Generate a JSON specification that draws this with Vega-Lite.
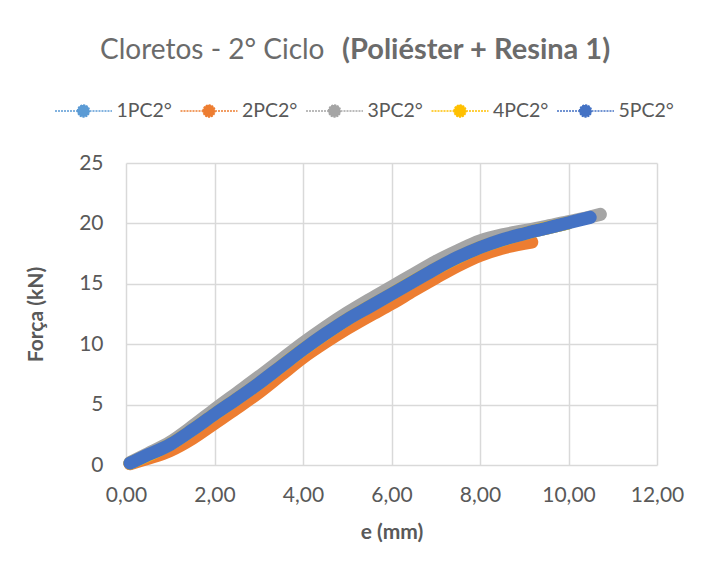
{
  "$schema": "https://vega.github.io/schema/vega-lite/v6.json",
  "width": 531,
  "height": 302,
  "autosize": {"type": "none"},
  "padding": {"left": 126, "top": 163, "right": 46, "bottom": 109},
  "background": "white",
  "config": {
    "view": {"stroke": null},
    "font": "Lato",
    "text": {"font": "Lato"}
  },
  "title": {
    "text": "Cloretos - 2° Ciclo",
    "subtitle": "(Poliéster + Resina 1)",
    "orient": "top",
    "frame": "group",
    "anchor": "start",
    "dx": -26,
    "offset": 35,
    "font": "Lato",
    "fontSize": 28,
    "fontWeight": "normal",
    "color": "#6b6b6b",
    "subtitleFont": "Lato",
    "subtitleFontSize": 29,
    "subtitleFontWeight": "bold",
    "subtitleColor": "#6b6b6b",
    "subtitlePadding": -29,
    "encode": {"subtitle": {"update": {"dx": {"value": 216}}}}
  },
  "data": {
    "values": [
      {"serie": "1PC2°", "e": 0.09, "forca": 0.15},
      {"serie": "1PC2°", "e": 1.0, "forca": 1.7},
      {"serie": "1PC2°", "e": 2.0, "forca": 4.2},
      {"serie": "1PC2°", "e": 3.0, "forca": 6.75},
      {"serie": "1PC2°", "e": 4.0, "forca": 9.55},
      {"serie": "1PC2°", "e": 5.0, "forca": 12.05},
      {"serie": "1PC2°", "e": 6.0, "forca": 14.15},
      {"serie": "1PC2°", "e": 7.0, "forca": 16.25},
      {"serie": "1PC2°", "e": 8.0, "forca": 18.0},
      {"serie": "1PC2°", "e": 9.0, "forca": 19.15},
      {"serie": "1PC2°", "e": 10.0, "forca": 20.05},

      {"serie": "2PC2°", "e": 0.09, "forca": 0.1},
      {"serie": "2PC2°", "e": 0.5, "forca": 0.55},
      {"serie": "2PC2°", "e": 1.0, "forca": 1.2},
      {"serie": "2PC2°", "e": 1.5, "forca": 2.2},
      {"serie": "2PC2°", "e": 2.0, "forca": 3.45},
      {"serie": "2PC2°", "e": 2.5, "forca": 4.7},
      {"serie": "2PC2°", "e": 3.0, "forca": 6.0},
      {"serie": "2PC2°", "e": 3.5, "forca": 7.45},
      {"serie": "2PC2°", "e": 4.0, "forca": 8.9},
      {"serie": "2PC2°", "e": 4.5, "forca": 10.15},
      {"serie": "2PC2°", "e": 5.0, "forca": 11.3},
      {"serie": "2PC2°", "e": 5.5, "forca": 12.35},
      {"serie": "2PC2°", "e": 6.0, "forca": 13.35},
      {"serie": "2PC2°", "e": 6.5, "forca": 14.45},
      {"serie": "2PC2°", "e": 7.0, "forca": 15.5},
      {"serie": "2PC2°", "e": 7.5, "forca": 16.5},
      {"serie": "2PC2°", "e": 8.0, "forca": 17.35},
      {"serie": "2PC2°", "e": 8.5, "forca": 17.95},
      {"serie": "2PC2°", "e": 9.17, "forca": 18.45},

      {"serie": "3PC2°", "e": 0.09, "forca": 0.2},
      {"serie": "3PC2°", "e": 0.5, "forca": 0.95},
      {"serie": "3PC2°", "e": 1.0, "forca": 1.9},
      {"serie": "3PC2°", "e": 1.5, "forca": 3.2},
      {"serie": "3PC2°", "e": 2.0, "forca": 4.6},
      {"serie": "3PC2°", "e": 2.5, "forca": 5.95},
      {"serie": "3PC2°", "e": 3.0, "forca": 7.3},
      {"serie": "3PC2°", "e": 3.5, "forca": 8.7},
      {"serie": "3PC2°", "e": 4.0, "forca": 10.1},
      {"serie": "3PC2°", "e": 4.5, "forca": 11.4},
      {"serie": "3PC2°", "e": 5.0, "forca": 12.6},
      {"serie": "3PC2°", "e": 5.5, "forca": 13.7},
      {"serie": "3PC2°", "e": 6.0, "forca": 14.75},
      {"serie": "3PC2°", "e": 6.5, "forca": 15.8},
      {"serie": "3PC2°", "e": 7.0, "forca": 16.85},
      {"serie": "3PC2°", "e": 7.5, "forca": 17.75},
      {"serie": "3PC2°", "e": 8.0, "forca": 18.55},
      {"serie": "3PC2°", "e": 8.5, "forca": 19.05},
      {"serie": "3PC2°", "e": 9.0, "forca": 19.4},
      {"serie": "3PC2°", "e": 9.5, "forca": 19.75},
      {"serie": "3PC2°", "e": 10.0, "forca": 20.15},
      {"serie": "3PC2°", "e": 10.5, "forca": 20.55},
      {"serie": "3PC2°", "e": 10.72, "forca": 20.75},

      {"serie": "4PC2°", "e": 0.09, "forca": 0.15},
      {"serie": "4PC2°", "e": 1.0, "forca": 1.7},
      {"serie": "4PC2°", "e": 2.0, "forca": 4.2},
      {"serie": "4PC2°", "e": 3.0, "forca": 6.75},
      {"serie": "4PC2°", "e": 4.0, "forca": 9.55},
      {"serie": "4PC2°", "e": 5.0, "forca": 12.05},
      {"serie": "4PC2°", "e": 6.0, "forca": 14.15},
      {"serie": "4PC2°", "e": 7.0, "forca": 16.25},
      {"serie": "4PC2°", "e": 8.0, "forca": 18.0},
      {"serie": "4PC2°", "e": 9.0, "forca": 19.15},
      {"serie": "4PC2°", "e": 10.0, "forca": 20.05},

      {"serie": "5PC2°", "e": 0.09, "forca": 0.15},
      {"serie": "5PC2°", "e": 0.5, "forca": 0.85},
      {"serie": "5PC2°", "e": 1.0, "forca": 1.7},
      {"serie": "5PC2°", "e": 1.5, "forca": 2.9},
      {"serie": "5PC2°", "e": 2.0, "forca": 4.2},
      {"serie": "5PC2°", "e": 2.5, "forca": 5.45},
      {"serie": "5PC2°", "e": 3.0, "forca": 6.75},
      {"serie": "5PC2°", "e": 3.5, "forca": 8.15},
      {"serie": "5PC2°", "e": 4.0, "forca": 9.55},
      {"serie": "5PC2°", "e": 4.5, "forca": 10.85},
      {"serie": "5PC2°", "e": 5.0, "forca": 12.05},
      {"serie": "5PC2°", "e": 5.5, "forca": 13.1},
      {"serie": "5PC2°", "e": 6.0, "forca": 14.15},
      {"serie": "5PC2°", "e": 6.5, "forca": 15.2},
      {"serie": "5PC2°", "e": 7.0, "forca": 16.25},
      {"serie": "5PC2°", "e": 7.5, "forca": 17.2},
      {"serie": "5PC2°", "e": 8.0, "forca": 18.0},
      {"serie": "5PC2°", "e": 8.5, "forca": 18.65},
      {"serie": "5PC2°", "e": 9.0, "forca": 19.15},
      {"serie": "5PC2°", "e": 9.5, "forca": 19.6},
      {"serie": "5PC2°", "e": 10.0, "forca": 20.05},
      {"serie": "5PC2°", "e": 10.49, "forca": 20.5}
    ]
  },
  "mark": {
    "type": "line",
    "strokeWidth": 13,
    "strokeCap": "round",
    "strokeJoin": "round",
    "interpolate": "monotone"
  },
  "encoding": {
    "x": {
      "field": "e",
      "type": "quantitative",
      "scale": {"domain": [0, 12], "nice": false, "zero": false},
      "axis": {
        "title": "e (mm)",
        "values": [0, 2, 4, 6, 8, 10, 12],
        "labelExpr": "replace(format(datum.value, '.2f'), '.', ',')",
        "grid": true,
        "gridColor": "#d9d9d9",
        "gridWidth": 1.5,
        "domain": false,
        "ticks": false,
        "labelFont": "Lato",
        "labelFontSize": 21,
        "labelColor": "#595959",
        "labelPadding": 19,
        "labelFlush": false,
        "titleFont": "Lato",
        "titleFontSize": 21,
        "titleFontWeight": "bold",
        "titleColor": "#595959",
        "titlePadding": 16
      }
    },
    "y": {
      "field": "forca",
      "type": "quantitative",
      "scale": {"domain": [0, 25], "nice": false},
      "axis": {
        "title": "Força (kN)",
        "values": [0, 5, 10, 15, 20, 25],
        "grid": true,
        "gridColor": "#d9d9d9",
        "gridWidth": 1.5,
        "domain": false,
        "ticks": false,
        "labelFont": "Lato",
        "labelFontSize": 21,
        "labelColor": "#595959",
        "labelPadding": 23,
        "labelFlush": false,
        "titleFont": "Lato",
        "titleFontSize": 21,
        "titleFontWeight": "bold",
        "titleColor": "#595959",
        "titlePadding": 32
      }
    },
    "color": {
      "field": "serie",
      "type": "nominal",
      "scale": {
        "domain": ["1PC2°", "2PC2°", "3PC2°", "4PC2°", "5PC2°"],
        "range": ["#5B9BD5", "#ED7D31", "#A5A5A5", "#FFC000", "#4472C4"]
      },
      "legend": {
        "title": null,
        "orient": "none",
        "direction": "horizontal",
        "columns": 5,
        "legendX": -72,
        "legendY": -62,
        "padding": 0,
        "clipHeight": 20,
        "symbolType": "M-1,0L-0.21,0M0.21,0L1,0M-0.21,0A0.21,0.21,0,1,1,0.21,0A0.21,0.21,0,1,1,-0.21,0Z",
        "symbolSize": 3249,
        "symbolStrokeWidth": 1.5,
        "symbolDash": [2, 1],
        "labelFont": "Lato",
        "labelFontSize": 19.5,
        "labelColor": "#595959",
        "labelOffset": 3.5,
        "columnPadding": 7.5,
        "encoding": {
          "symbols": {
            "fill": {"value": {"expr": "scale('color', datum.value)"}},
            "strokeWidth": {"value": 1.5},
            "opacity": {"value": 1}
          }
        }
      }
    }
  }
}
